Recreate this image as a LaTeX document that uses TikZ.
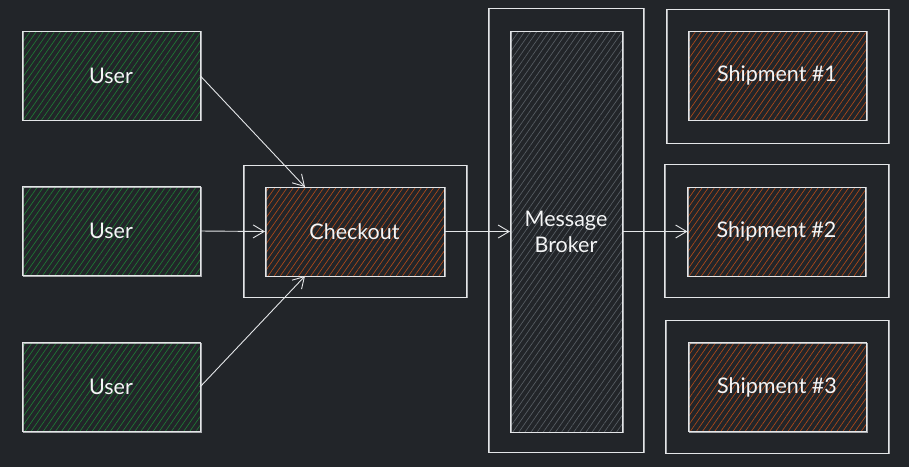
\documentclass[tikz,border=0pt]{standalone}
\usepackage{fontspec}
\setmainfont{Lato}
\usetikzlibrary{patterns.meta,arrows.meta,calc}
\definecolor{bgc}{HTML}{222529}
\definecolor{strokec}{HTML}{E4E6E8}
\definecolor{txtc}{HTML}{F4F5F6}
\definecolor{hgreen}{HTML}{1F7A35}
\definecolor{horange}{HTML}{B04A1A}
\definecolor{hgrey}{HTML}{585E64}
\tikzset{
  sk/.style={draw=strokec, line width=0.9pt, inner sep=0pt, outer sep=0pt,
    postaction={draw=strokec, line width=0.5pt, opacity=0.7,
      transform canvas={xshift=0.8pt, yshift=-0.6pt}}},
  hatch/.style={preaction={pattern={Lines[angle=55,distance=5pt,line width=0.65pt]}, pattern color=#1}},
  lbl/.style={text=txtc, font=\fontsize{21.5}{26}\selectfont},
  usr/.style={sk, hatch=hgreen, minimum width=178pt, minimum height=89pt, lbl},
  org/.style={sk, hatch=horange, minimum width=178pt, minimum height=89pt, lbl},
  frame/.style={sk},
  conn/.style={draw=strokec, line width=0.9pt,
    -{Straight Barb[length=11pt,width=13pt,line width=0.9pt]}},
}
\begin{document}
\begin{tikzpicture}[x=1pt,y=-1pt]
\fill[bgc] (0,0) rectangle (909,467);
\useasboundingbox (0,0) rectangle (909,467);
% frames
\node[frame, minimum width=223pt, minimum height=132pt] (chkf) at (354.5,231) {};
\node[frame, minimum width=155pt, minimum height=444pt] (brkf) at (565.5,230) {};
\node[frame, minimum width=222pt, minimum height=134pt] (s1f) at (777,76) {};
\node[frame, minimum width=224pt, minimum height=133pt] (s2f) at (776,230.5) {};
\node[frame, minimum width=223pt, minimum height=133pt] (s3f) at (776.5,386.5) {};
% users
\node[usr] (u1) at (111,75.5) {User};
\node[usr] (u2) at (111,231) {User};
\node[usr] (u3) at (111,387) {User};
% checkout
\node[org, minimum width=179pt] (chk) at (354.5,231.5) {Checkout};
% broker
\node[sk, hatch=hgrey, minimum width=112pt, minimum height=401pt, lbl,
  align=center] (brk) at (566,231.5) {Message\\Broker};
% shipments
\node[org] (s1) at (777,75.5) {Shipment \#1};
\node[org] (s2) at (776.5,231.5) {Shipment \#2};
\node[org] (s3) at (777,387) {Shipment \#3};
% connectors
\coordinate (chktop) at ($(chk.north west)+(40,0)$);
\coordinate (chkbot) at ($(chk.south west)+(40,0)$);
\draw[conn] (u1.east) -- (chktop);
\draw[conn] (u2.east) -- (chk.west);
\draw[conn] (u3.east) -- (chkbot);
\draw[conn] (chk.east) -- (brk.west);
\draw[conn] (brk.east) -- (s2.west);
\end{tikzpicture}
\end{document}
